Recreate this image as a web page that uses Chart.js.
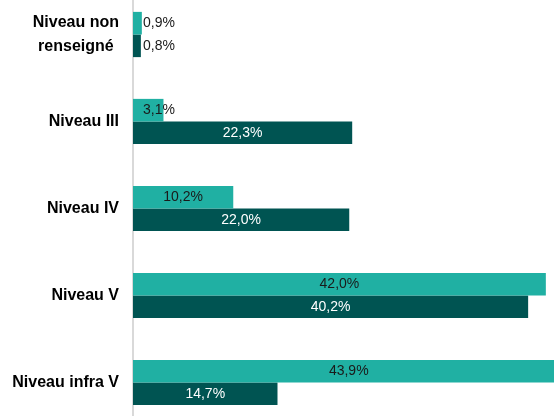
<!DOCTYPE html>
<html>
<head>
<meta charset="utf-8">
<script src="https://cdn.jsdelivr.net/npm/chart.js@4/dist/chart.umd.min.js"></script>
<style>
  html, body { margin: 0; padding: 0; background: #fff; overflow: hidden; }
  #wrap { position: absolute; left: 0; top: -9px; width: 554px; height: 435px; }
</style>
</head>
<body>
<div id="wrap"><canvas id="chart"></canvas></div>
<script>
const categories = [['Niveau non', 'renseigné'], 'Niveau III', 'Niveau IV', 'Niveau V', 'Niveau infra V'];
const seriesA = [0.9, 3.1, 10.2, 42.0, 43.9];
const seriesB = [0.8, 22.3, 22.0, 40.2, 14.7];
const xMax = 42.83;

const lightTeal = '#20b0a3';
const darkTeal = '#005452';

function fmt(v) {
  return v.toFixed(1).replace('.', ',') + '%';
}

// category labels: single lines right aligned, wrapped ones centered on their widest line
const catLabels = {
  id: 'catLabels',
  afterDraw(chart) {
    const { ctx, scales: { y } } = chart;
    const right = y.right - 14;
    ctx.save();
    ctx.font = 'bold 16px "Liberation Sans", Arial, sans-serif';
    ctx.fillStyle = '#000';
    ctx.textBaseline = 'middle';
    categories.forEach((cat, i) => {
      const lines = Array.isArray(cat) ? cat : [cat];
      const cy = y.getPixelForValue(i);
      const lh = 24;
      const w = Math.max(...lines.map(l => ctx.measureText(l).width));
      lines.forEach((l, j) => {
        const ly = cy + (j - (lines.length - 1) / 2) * lh;
        if (lines.length > 1) {
          ctx.textAlign = 'center';
          ctx.fillText(l, right - w / 2, ly);
        } else {
          ctx.textAlign = 'right';
          ctx.fillText(l, right, ly);
        }
      });
    });
    ctx.restore();
  }
};

const valueLabels = {
  id: 'valueLabels',
  afterDatasetsDraw(chart) {
    const { ctx, scales: { x } } = chart;
    ctx.save();
    ctx.font = '14px "Liberation Sans", Arial, sans-serif';
    ctx.textBaseline = 'middle';
    chart.data.datasets.forEach((ds, di) => {
      const meta = chart.getDatasetMeta(di);
      meta.data.forEach((bar, i) => {
        const v = ds.data[i];
        if (v < 5) {
          ctx.fillStyle = '#1a1a1a';
          ctx.textAlign = 'left';
          ctx.fillText(fmt(v), x.getPixelForValue(0) + 10, bar.y);
        } else {
          ctx.fillStyle = di === 0 ? '#1a1a1a' : '#ffffff';
          ctx.textAlign = 'center';
          ctx.fillText(fmt(v), x.getPixelForValue(v / 2), bar.y);
        }
      });
    });
    ctx.restore();
  }
};

new Chart(document.getElementById('chart'), {
  type: 'bar',
  data: {
    labels: categories,
    datasets: [
      { label: 'A', data: seriesA, backgroundColor: lightTeal },
      { label: 'B', data: seriesB, backgroundColor: darkTeal },
    ],
  },
  options: {
    indexAxis: 'y',
    responsive: true,
    maintainAspectRatio: false,
    animation: false,
    layout: { padding: 0 },
    datasets: {
      bar: { categoryPercentage: 0.52, barPercentage: 1.0, borderWidth: 0 },
    },
    plugins: {
      legend: { display: false },
      tooltip: { enabled: false },
    },
    scales: {
      x: {
        min: 0,
        max: xMax,
        display: false,
      },
      y: {
        offset: true,
        grid: { display: false, drawTicks: false },
        border: { display: true, color: '#d9d9d9', width: 2 },
        ticks: { display: false },
        afterFit(scale) { scale.width = 133; },
      },
    },
  },
  plugins: [catLabels, valueLabels],
});
</script>
</body>
</html>
